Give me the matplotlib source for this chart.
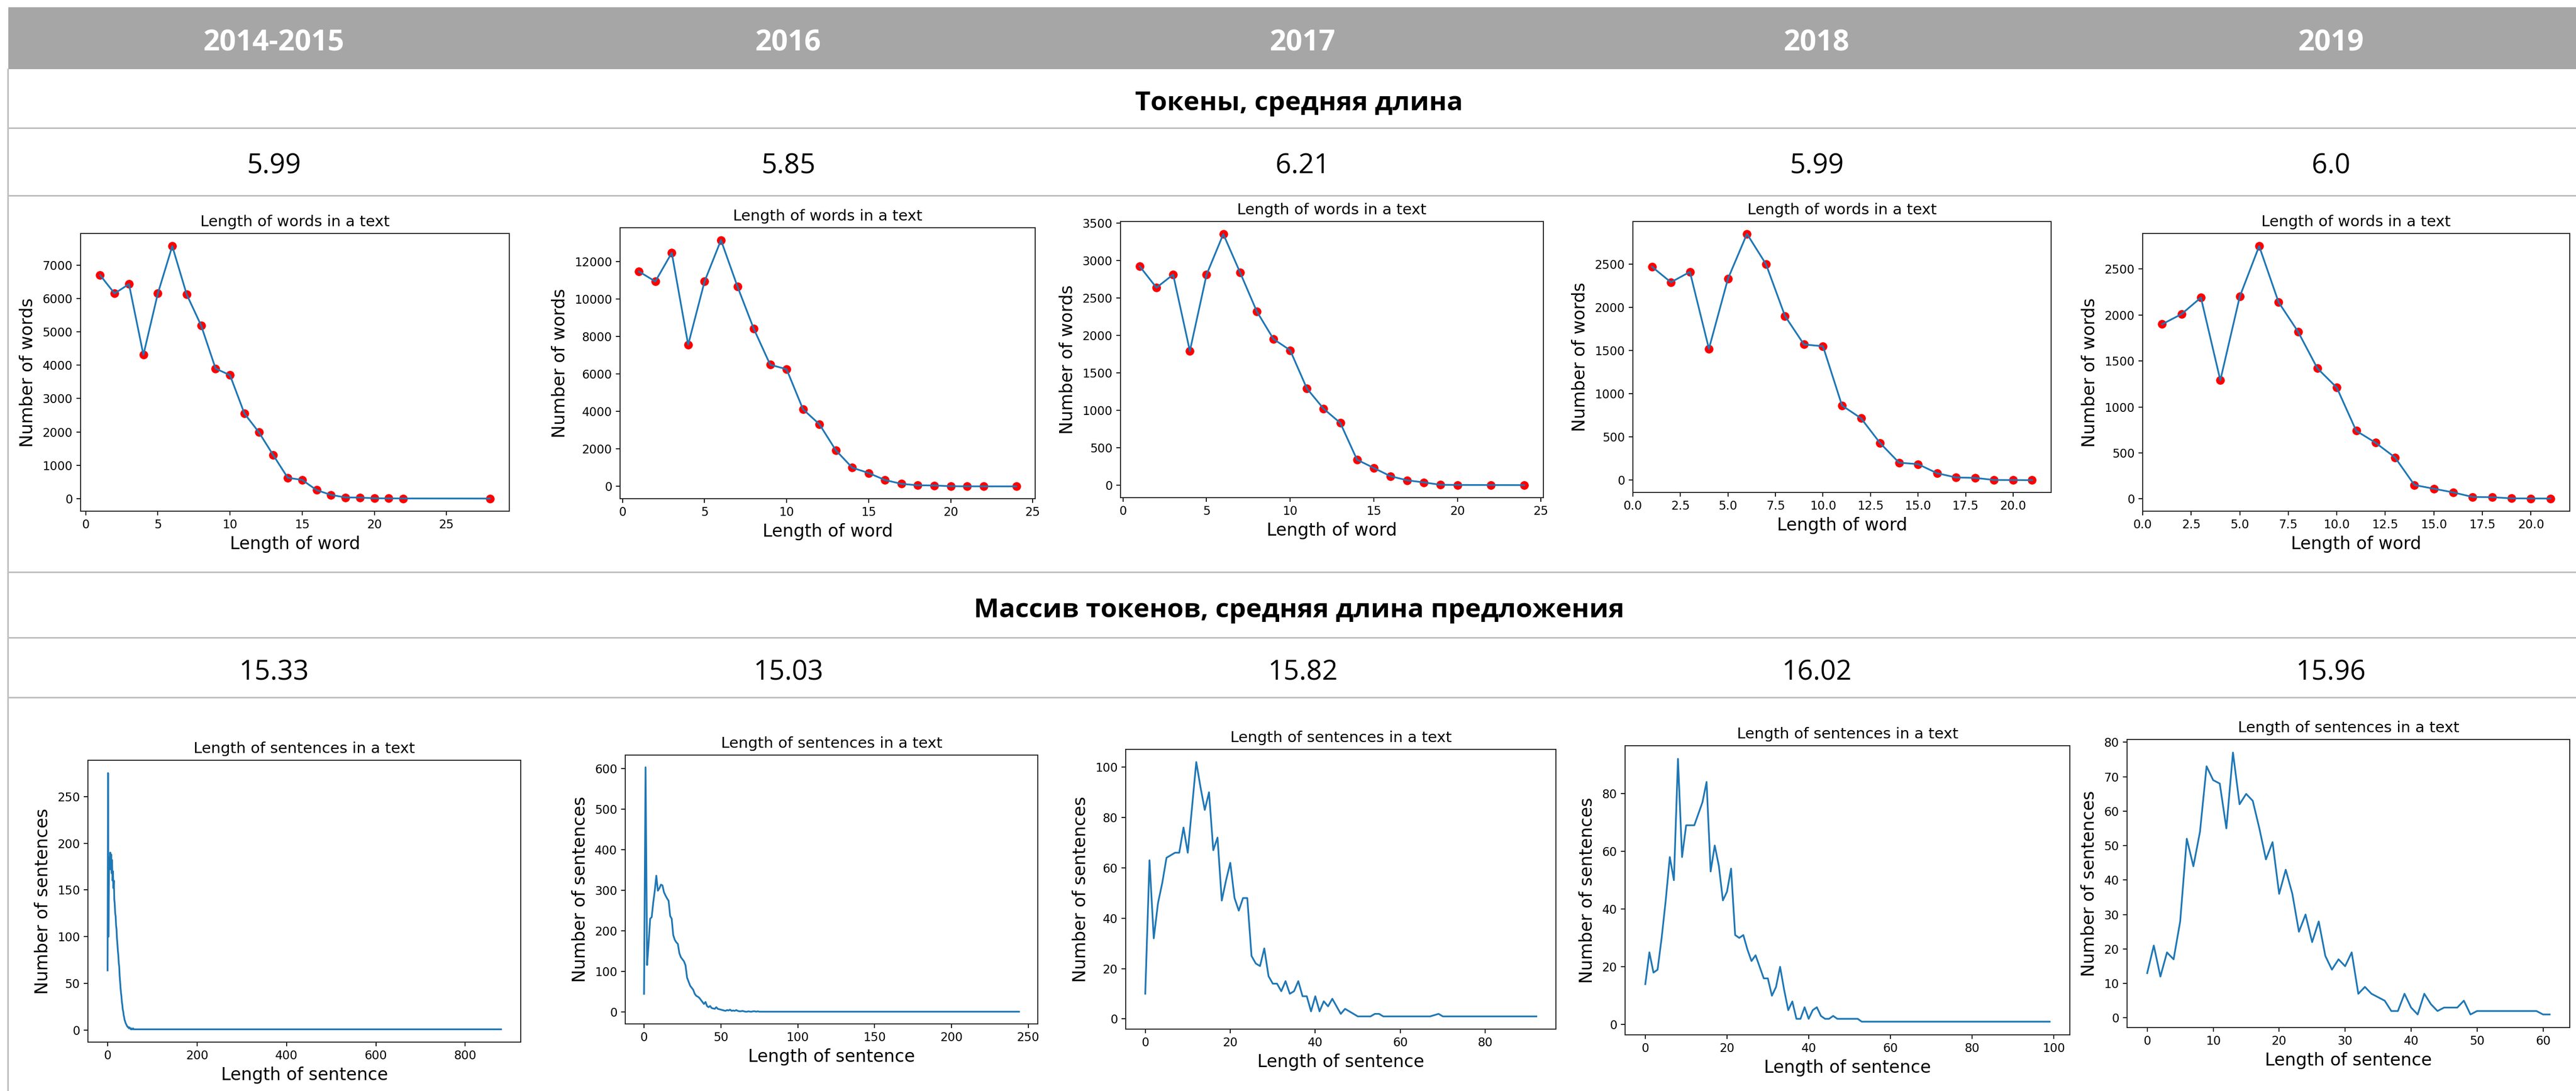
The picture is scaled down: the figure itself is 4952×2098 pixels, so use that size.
import matplotlib
matplotlib.use("Agg")
import matplotlib.pyplot as plt
from matplotlib.lines import Line2D
from matplotlib.patches import Rectangle
from matplotlib.ticker import MultipleLocator

# ---------------- data ----------------
years = ["2014-2015", "2016", "2017", "2018", "2019"]
section_titles = ["Токены, средняя длина", "Массив токенов, средняя длина предложения"]
avg_word_len = ["5.99", "5.85", "6.21", "5.99", "6.0"]
avg_sent_len = ["15.33", "15.03", "15.82", "16.02", "15.96"]

words_x_2014 = [1, 2, 3, 4, 5, 6, 7, 8, 9, 10, 11, 12, 13, 14, 15, 16, 17, 18, 19, 20, 21, 22, 28]
words_y_2014 = [6700, 6150, 6430, 4310, 6150, 7570, 6120, 5190, 3900, 3700, 2550, 1990, 1300, 625,
                560, 255, 110, 35, 30, 10, 6, 4, 1]
words_x_2016 = [1, 2, 3, 4, 5, 6, 7, 8, 9, 10, 11, 12, 13, 14, 15, 16, 17, 18, 19, 20, 21, 22, 24]
words_y_2016 = [11480, 10950, 12480, 7570, 10950, 13160, 10690, 8420, 6500, 6260, 4120, 3320, 1930,
                1000, 715, 340, 136, 60, 50, 10, 5, 3, 1]
words_x_2017 = [1, 2, 3, 4, 5, 6, 7, 8, 9, 10, 11, 12, 13, 14, 15, 16, 17, 18, 19, 20, 22, 24]
words_y_2017 = [2920, 2635, 2810, 1790, 2810, 3350, 2840, 2320, 1950, 1800, 1290, 1020, 830, 340,
                230, 120, 65, 37, 5, 3, 2, 1]
words_x_2018 = [1, 2, 3, 4, 5, 6, 7, 8, 9, 10, 11, 12, 13, 14, 15, 16, 17, 18, 19, 20, 21]
words_y_2018 = [2470, 2290, 2410, 1520, 2330, 2850, 2500, 1900, 1570, 1550, 864, 717, 431, 203,
                186, 81, 32, 27, 3, 2, 1]
words_x_2019 = [1, 2, 3, 4, 5, 6, 7, 8, 9, 10, 11, 12, 13, 14, 15, 16, 17, 18, 19, 20, 21]
words_y_2019 = [1900, 2010, 2190, 1290, 2200, 2750, 2140, 1820, 1420, 1210, 740, 610, 450, 150,
                110, 70, 20, 18, 5, 4, 3]

sent_x_2014 = [0, 1, 2, 3, 4, 5, 6, 7, 8, 9, 10, 11, 12, 13, 14, 15, 16, 17, 18, 19, 20, 21, 22, 23,
               24, 25, 26, 27, 28, 29, 30, 31, 32, 33, 34, 35, 36, 37, 38, 39, 40, 41, 42, 43, 44, 45,
               46, 47, 48, 49, 50, 51, 52, 53, 54, 55, 57, 58, 60, 62, 65, 68, 72, 880]
sent_y_2014 = [64, 275, 100, 165, 185, 178, 190, 172, 188, 168, 182, 160, 170, 152, 160, 140, 135,
               125, 122, 112, 108, 98, 92, 85, 80, 72, 68, 58, 52, 45, 40, 36, 30, 27, 22, 20, 16,
               14, 11, 10, 8, 7, 6, 5, 4, 4, 3, 3, 2, 3, 2, 2, 1, 2, 1, 1, 2, 1, 1, 1, 1, 1, 1, 1]

sent_x_2016 = [0, 1, 2, 3, 4, 5, 6, 7, 8, 9, 10, 11, 12, 13, 14, 15, 16, 17, 18, 19, 20, 21, 22, 23,
               24, 25, 26, 27, 28, 29, 30, 31, 32, 33, 34, 35, 36, 37, 38, 39, 40, 41, 42, 43, 44, 45,
               46, 47, 48, 49, 50, 51, 52, 53, 54, 55, 56, 57, 58, 59, 60, 61, 62, 63, 64, 65, 66,
               67, 68, 69, 70, 71, 72, 73, 74, 75, 78, 80, 84, 90, 100, 120, 244]
sent_y_2016 = [45, 603, 116, 170, 230, 234, 270, 299, 336, 299, 305, 314, 312, 295, 287, 280, 274,
               237, 230, 190, 178, 172, 168, 145, 135, 130, 125, 115, 85, 75, 65, 60, 55, 45, 40, 38,
               35, 30, 25, 20, 25, 15, 12, 15, 10, 9, 8, 12, 8, 7, 6, 5, 4, 3, 5, 4, 6, 3, 4, 3, 5,
               3, 2, 2, 3, 2, 1, 1, 2, 1, 1, 2, 2, 1, 2, 1, 1, 1, 1, 1, 1, 1, 1]

sent_x_2017 = [0, 1, 2, 3, 4, 5, 6, 7, 8, 9, 10, 11, 12, 13, 14, 15, 16, 17, 18, 19, 20, 21, 22, 23,
               24, 25, 26, 27, 28, 29, 30, 31, 32, 33, 34, 35, 36, 37, 38, 39, 40, 41, 42, 43, 44, 45,
               46, 47, 48, 49, 50, 51, 52, 53, 54, 55, 56, 58, 60, 62, 65, 67, 69, 70, 72, 75, 80, 92]
sent_y_2017 = [10, 63, 32, 46, 54, 64, 65, 66, 66, 76, 66, 84, 102, 92, 83, 90, 67, 72, 47, 55, 62,
               48, 43, 48, 48, 25, 22, 21, 28, 17, 14, 14, 11, 15, 10, 11, 15, 9, 9, 3, 9, 3, 7, 5, 8,
               5, 2, 4, 3, 2, 1, 1, 1, 1, 2, 2, 1, 1, 1, 1, 1, 1, 2, 1, 1, 1, 1, 1]

sent_x_2018 = [0, 1, 2, 3, 4, 5, 6, 7, 8, 9, 10, 11, 12, 13, 14, 15, 16, 17, 18, 19, 20, 21, 22, 23,
               24, 25, 26, 27, 28, 29, 30, 31, 32, 33, 34, 35, 36, 37, 38, 39, 40, 41, 42, 43, 44, 45,
               46, 47, 48, 49, 50, 51, 52, 53, 55, 58, 60, 65, 70, 80, 90, 99]
sent_y_2018 = [14, 25, 18, 19, 30, 43, 58, 50, 92, 58, 69, 69, 69, 73, 77, 84, 53, 62, 55, 43, 46,
               54, 31, 30, 31, 26, 22, 24, 20, 16, 16, 10, 13, 20, 12, 5, 8, 2, 2, 6, 2, 5, 6, 3, 2,
               2, 3, 2, 2, 2, 2, 2, 2, 1, 1, 1, 1, 1, 1, 1, 1, 1]

sent_x_2019 = [0, 1, 2, 3, 4, 5, 6, 7, 8, 9, 10, 11, 12, 13, 14, 15, 16, 17, 18, 19, 20, 21, 22, 23,
               24, 25, 26, 27, 28, 29, 30, 31, 32, 33, 34, 35, 36, 37, 38, 39, 40, 41, 42, 43, 44, 45,
               46, 47, 48, 49, 50, 51, 52, 53, 54, 55, 56, 57, 58, 59, 60, 61]
sent_y_2019 = [13, 21, 12, 19, 17, 28, 52, 44, 54, 73, 69, 68, 55, 77, 62, 65, 63, 55, 46, 51, 36,
               43, 36, 25, 30, 22, 28, 18, 14, 17, 15, 19, 7, 9, 7, 6, 5, 2, 2, 7, 3, 1, 7, 4, 2, 3,
               3, 3, 5, 1, 2, 2, 2, 2, 2, 2, 2, 2, 2, 2, 1, 1]

word_series = [(words_x_2014, words_y_2014), (words_x_2016, words_y_2016), (words_x_2017, words_y_2017),
               (words_x_2018, words_y_2018), (words_x_2019, words_y_2019)]
sent_series = [(sent_x_2014, sent_y_2014), (sent_x_2016, sent_y_2016), (sent_x_2017, sent_y_2017),
               (sent_x_2018, sent_y_2018), (sent_x_2019, sent_y_2019)]

# ---------------- layout (pixels) ----------------
W, H = 4952, 2098
fig = plt.figure(figsize=(W / 100, H / 100), dpi=100)
fig.patch.set_facecolor("white")

def fx(x):
    return x / W

def fy(y):
    return 1 - y / H

col_centers = [527 + 988.5 * i for i in range(5)]
TXT = "Open Sans"
LINE_C = "#BFBFBF"

# header band
fig.add_artist(Rectangle((fx(16), fy(133)), fx(W - 16), (133 - 14) / H,
                         transform=fig.transFigure, facecolor="#A6A6A6", edgecolor="none"))
for c, yr in zip(col_centers, years):
    fig.text(fx(c), fy(97), yr, ha="center", va="baseline", color="white",
             fontfamily=TXT, fontweight="bold", fontsize=40)

# table lines
for yline in [246, 376, 1100, 1226, 1341]:
    fig.add_artist(Line2D([fx(16), 1], [fy(yline), fy(yline)], transform=fig.transFigure,
                          color=LINE_C, lw=2.2))
fig.add_artist(Line2D([fx(15), fx(15)], [fy(133), 0], transform=fig.transFigure,
                      color=LINE_C, lw=2.2))

# section titles and values
fig.text(fx(2497), fy(212), section_titles[0], ha="center", va="baseline", color="black",
         fontfamily=TXT, fontweight="bold", fontsize=37)
fig.text(fx(2497), fy(1187), section_titles[1], ha="center", va="baseline", color="black",
         fontfamily=TXT, fontweight="bold", fontsize=37)
for c, v in zip(col_centers, avg_word_len):
    fig.text(fx(c), fy(333), v, ha="center", va="baseline", color="black",
             fontfamily=TXT, fontsize=38)
for c, v in zip(col_centers, avg_sent_len):
    fig.text(fx(c), fy(1307), v, ha="center", va="baseline", color="black",
             fontfamily=TXT, fontsize=38)

# axes rectangles: (left, top, right, bottom) in pixels
word_rects = [(155, 449, 979, 983), (1192, 438, 1990, 959), (2154, 426, 2967, 957),
              (3139, 426, 3943, 947), (4119, 449, 4940, 983)]
sent_rects = [(169, 1462, 1001, 2004), (1202, 1452, 1995, 1969), (2164, 1441, 2991, 1979),
              (3124, 1434, 3979, 1990), (4089, 1422, 4940, 1976)]
word_xstep = [5, 5, 5, 2.5, 2.5]
word_ystep = [1000, 2000, 500, 500, 500]
sent_xstep = [200, 50, 20, 20, 10]
sent_ystep = [50, 100, 20, 20, 10]

BLUE = "#1f77b4"

def style_axes(ax, title, xlabel, ylabel, xstep, ystep, xfmt=None):
    ax.set_title(title, fontsize=21, pad=10, fontfamily="DejaVu Sans")
    ax.set_xlabel(xlabel, fontsize=24, labelpad=6)
    ax.set_ylabel(ylabel, fontsize=24, labelpad=8)
    ax.xaxis.set_major_locator(MultipleLocator(xstep))
    ax.yaxis.set_major_locator(MultipleLocator(ystep))
    ax.tick_params(labelsize=16.5, length=6, width=1.3, pad=5)
    for s in ax.spines.values():
        s.set_linewidth(1.4)
        s.set_color("#222222")
    if xfmt:
        ax.xaxis.set_major_formatter(xfmt)

for i, ((l, t, r, b), (xs, ys)) in enumerate(zip(word_rects, word_series)):
    ax = fig.add_axes([fx(l), fy(b), (r - l) / W, (b - t) / H])
    ax.plot(xs, ys, "o", color="red", markersize=11, zorder=2)
    ax.plot(xs, ys, "-", color=BLUE, lw=2.4, zorder=3)
    fmt = "{x:.1f}" if word_xstep[i] == 2.5 else None
    style_axes(ax, "Length of words in a text", "Length of word", "Number of words",
               word_xstep[i], word_ystep[i], fmt)

for i, ((l, t, r, b), (xs, ys)) in enumerate(zip(sent_rects, sent_series)):
    ax = fig.add_axes([fx(l), fy(b), (r - l) / W, (b - t) / H])
    ax.plot(xs, ys, "-", color=BLUE, lw=2.4)
    style_axes(ax, "Length of sentences in a text", "Length of sentence", "Number of sentences",
               sent_xstep[i], sent_ystep[i])

fig.savefig("out.png", dpi=100, facecolor="white")
